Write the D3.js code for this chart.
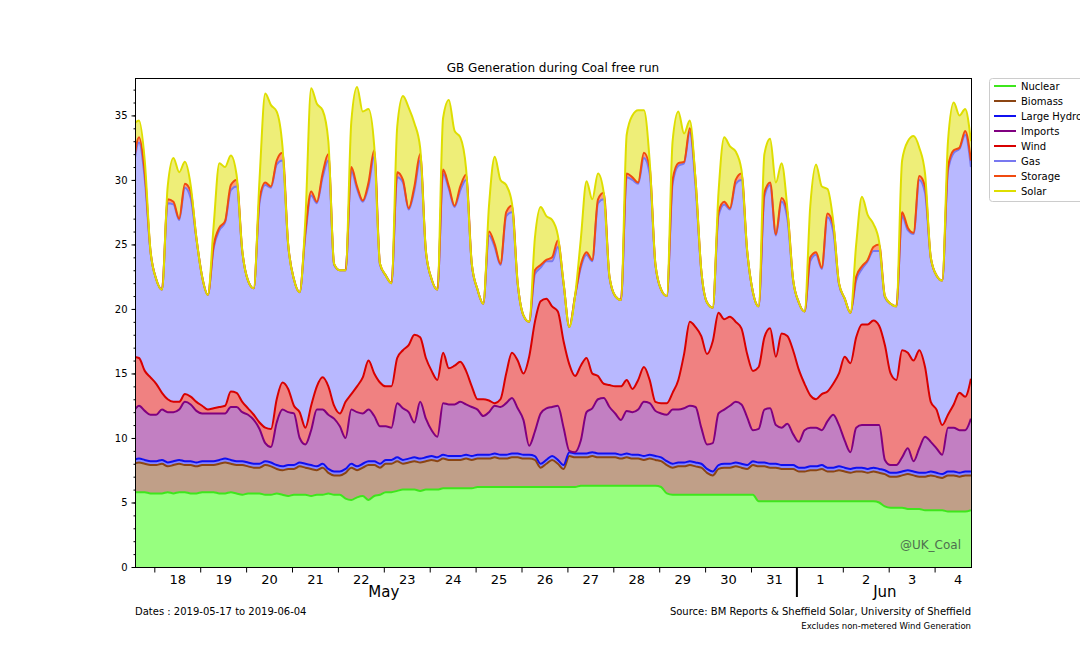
<!DOCTYPE html>
<html>
<head>
<meta charset="utf-8">
<script src="https://cdnjs.cloudflare.com/ajax/libs/d3/7.8.5/d3.min.js"></script>
<style>
  body { margin: 0; background: #fff; font-family: "DejaVu Sans", sans-serif; }
  svg text { font-family: "DejaVu Sans", sans-serif; }
</style>
</head>
<body>
<div id="chart"></div>
<script>
// GB generation by source, GW, every 3 hours from 17 May 13:00 (UTC) to 4 Jun 19:00
const nuclear = [
  5.8, 5.8, 5.8, 5.7,
  5.7, 5.7, 5.8, 5.7, 5.8, 5.8, 5.7, 5.7,
  5.8, 5.8, 5.8, 5.7, 5.7, 5.8, 5.7, 5.6,
  5.7, 5.7, 5.7, 5.6, 5.6, 5.7, 5.6, 5.5,
  5.6, 5.6, 5.6, 5.5, 5.6, 5.6, 5.7, 5.6,
  5.6, 5.3, 5.2, 5.4, 5.5, 5.2, 5.5, 5.6,
  5.8, 5.8, 5.9, 6.0, 6.0, 6.0, 5.9, 6.0,
  6.0, 6.0, 6.1, 6.1, 6.1, 6.1, 6.1, 6.1,
  6.2, 6.2, 6.2, 6.2, 6.2, 6.2, 6.2, 6.2,
  6.2, 6.2, 6.2, 6.2, 6.2, 6.2, 6.2, 6.2,
  6.2, 6.2, 6.3, 6.3, 6.3, 6.3, 6.3, 6.3,
  6.3, 6.3, 6.3, 6.3, 6.3, 6.3, 6.3, 6.3,
  6.2, 5.7, 5.6, 5.6, 5.6, 5.6, 5.6, 5.6,
  5.6, 5.6, 5.6, 5.6, 5.6, 5.6, 5.6, 5.6,
  5.6, 5.1, 5.1, 5.1, 5.1, 5.1, 5.1, 5.1,
  5.1, 5.1, 5.1, 5.1, 5.1, 5.1, 5.1, 5.1,
  5.1, 5.1, 5.1, 5.1, 5.1, 5.1, 5.0, 4.7,
  4.6, 4.6, 4.6, 4.5, 4.5, 4.5, 4.4, 4.4,
  4.4, 4.4, 4.3, 4.3, 4.3, 4.3, 4.4
];
const biomass = [
  2.2, 2.3, 2.2, 2.2,
  2.2, 2.3, 2.0, 2.2, 2.2, 2.1, 2.2, 2.1,
  2.1, 2.1, 2.1, 2.3, 2.4, 2.2, 2.2, 2.3,
  2.1, 2.0, 2.0, 2.3, 2.2, 1.9, 1.9, 2.1,
  2.0, 2.2, 2.1, 2.1, 1.9, 2.1, 1.6, 1.5,
  1.5, 2.0, 2.5, 2.1, 2.2, 2.7, 2.4, 2.1,
  2.2, 2.2, 2.3, 2.0, 2.1, 2.2, 2.2, 2.2,
  2.3, 2.2, 2.3, 2.2, 2.2, 2.2, 2.3, 2.2,
  2.2, 2.2, 2.2, 2.3, 2.2, 2.2, 2.3, 2.3,
  2.2, 2.2, 2.1, 1.5, 1.8, 2.1, 1.8, 1.4,
  2.4, 2.3, 2.2, 2.2, 2.3, 2.2, 2.2, 2.2,
  2.2, 2.1, 2.2, 2.1, 2.1, 2.0, 2.1, 2.0,
  2.0, 2.2, 2.1, 2.2, 2.2, 2.3, 2.2, 2.1,
  1.7, 1.5, 2.0, 2.1, 2.1, 2.2, 2.1, 2.0,
  2.3, 2.7, 2.7, 2.6, 2.6, 2.5, 2.5, 2.5,
  2.3, 2.3, 2.4, 2.4, 2.5, 2.3, 2.3, 2.4,
  2.3, 2.2, 2.3, 2.3, 2.2, 2.3, 2.3, 2.5,
  2.4, 2.4, 2.5, 2.7, 2.6, 2.5, 2.6, 2.7,
  2.6, 2.5, 2.8, 2.8, 2.7, 2.8, 2.7
];
const hydro = [
  0.3, 0.3, 0.3, 0.3,
  0.3, 0.3, 0.3, 0.3, 0.3, 0.3, 0.3, 0.3,
  0.3, 0.3, 0.3, 0.3, 0.3, 0.3, 0.3, 0.3,
  0.3, 0.3, 0.3, 0.3, 0.3, 0.3, 0.3, 0.3,
  0.3, 0.3, 0.3, 0.3, 0.3, 0.3, 0.3, 0.3,
  0.3, 0.3, 0.3, 0.3, 0.3, 0.3, 0.3, 0.3,
  0.3, 0.3, 0.3, 0.3, 0.3, 0.3, 0.3, 0.3,
  0.3, 0.3, 0.3, 0.3, 0.3, 0.3, 0.3, 0.3,
  0.3, 0.3, 0.3, 0.3, 0.3, 0.3, 0.3, 0.3,
  0.3, 0.3, 0.3, 0.3, 0.3, 0.3, 0.3, 0.3,
  0.3, 0.3, 0.3, 0.3, 0.3, 0.3, 0.3, 0.3,
  0.3, 0.3, 0.3, 0.3, 0.3, 0.3, 0.3, 0.3,
  0.3, 0.3, 0.3, 0.3, 0.3, 0.3, 0.3, 0.3,
  0.3, 0.3, 0.3, 0.3, 0.3, 0.3, 0.3, 0.3,
  0.3, 0.3, 0.3, 0.3, 0.3, 0.3, 0.3, 0.3,
  0.3, 0.3, 0.3, 0.3, 0.3, 0.3, 0.3, 0.3,
  0.3, 0.3, 0.3, 0.3, 0.3, 0.3, 0.3, 0.3,
  0.3, 0.3, 0.3, 0.3, 0.3, 0.3, 0.3, 0.3,
  0.3, 0.3, 0.3, 0.3, 0.3, 0.3, 0.3
];
const imports = [
  3.7, 4.1, 3.8, 3.6,
  3.6, 3.9, 3.9, 3.8, 3.9, 4.6, 4.4, 4.0,
  3.7, 3.7, 3.7, 3.6, 3.5, 4.1, 4.2, 3.8,
  3.7, 3.4, 2.7, 1.4, 1.2, 3.3, 4.4, 4.1,
  4.0, 1.9, 1.5, 2.7, 4.4, 4.2, 4.2, 4.1,
  3.5, 2.4, 4.2, 4.2, 3.9, 4.0, 3.5, 2.9,
  2.6, 2.5, 4.2, 4.0, 3.6, 2.7, 4.4, 3.0,
  2.0, 1.6, 4.0, 4.0, 4.0, 4.2, 3.9, 3.8,
  3.5, 3.0, 3.3, 3.7, 3.7, 4.0, 4.3, 3.5,
  2.7, 0.7, 1.9, 3.9, 4.0, 3.8, 4.2, 2.9,
  0.1, 0.1, 1.0, 3.2, 3.4, 4.2, 4.3, 3.6,
  3.1, 2.7, 3.3, 3.3, 3.5, 4.2, 4.0, 3.5,
  3.4, 3.6, 4.2, 4.1, 4.2, 4.3, 4.3, 2.8,
  1.9, 2.2, 4.0, 4.2, 4.5, 4.7, 4.6, 3.7,
  2.4, 2.6, 4.1, 4.3, 3.0, 2.9, 3.2, 2.4,
  2.0, 2.9, 3.0, 3.0, 2.7, 3.6, 4.1, 3.2,
  2.1, 1.3, 3.1, 3.3, 3.4, 3.3, 3.4, 0.8,
  0.6, 0.6, 1.1, 1.7, 0.8, 1.9, 2.8, 2.3,
  1.9, 1.5, 3.4, 3.4, 3.3, 3.2, 4.1
];
const wind = [
  4.3, 3.7, 3.1, 2.9,
  2.4, 1.3, 1.0, 0.8, 0.6, 0.6, 0.6, 0.7,
  0.6, 0.3, 0.4, 0.5, 0.6, 1.2, 1.1, 0.8,
  0.5, 0.4, 0.5, 1.2, 1.4, 1.8, 2.1, 1.8,
  0.6, 2.0, 1.3, 1.9, 1.8, 2.5, 2.2, 1.0,
  1.0, 2.8, 1.2, 2.0, 2.8, 3.8, 3.3, 3.4,
  3.1, 3.2, 3.5, 4.5, 5.2, 6.8, 5.0, 4.7,
  4.6, 4.4, 3.9, 2.8, 3.0, 3.1, 2.6, 1.6,
  0.8, 1.3, 0.9, 0.2, 0.6, 2.3, 3.5, 3.7,
  3.6, 6.9, 8.5, 8.7, 8.5, 7.8, 7.3, 6.7,
  6.7, 5.9, 5.8, 4.2, 2.7, 1.8, 1.1, 1.7,
  2.1, 2.6, 2.4, 1.8, 2.3, 2.7, 1.8, 0.7,
  0.8, 0.9, 1.3, 2.3, 4.2, 6.5, 6.2, 7.1,
  7.0, 7.9, 7.8, 7.0, 6.9, 6.2, 5.9, 4.9,
  4.6, 4.8, 5.6, 6.2, 5.3, 7.3, 6.8, 6.5,
  5.6, 3.6, 2.5, 2.2, 2.8, 2.3, 2.4, 4.0,
  6.5, 6.9, 7.0, 7.8, 7.8, 8.1, 7.7, 8.9,
  7.1, 6.6, 8.3, 7.4, 7.8, 7.6, 5.4, 3.1,
  3.0, 2.3, 1.0, 1.8, 2.9, 2.6, 3.1
];
const gas = [
  14.5, 16.7, 14.9, 9.7,
  8.1, 8.0, 15.2, 15.3, 14.1, 16.0, 15.4, 12.6,
  10.0, 8.9, 12.4, 13.7, 14.2, 15.6, 16.0, 11.6,
  9.9, 9.8, 17.0, 18.8, 18.7, 18.2, 17.2, 11.1,
  9.8, 9.3, 14.9, 16.3, 14.2, 15.5, 17.5, 10.9,
  11.1, 10.2, 17.3, 15.3, 13.6, 13.5, 16.8, 9.1,
  8.6, 8.0, 14.0, 13.0, 10.5, 11.2, 13.7, 8.2,
  7.1, 7.0, 13.9, 13.9, 12.3, 13.3, 14.8, 9.4,
  8.5, 7.4, 12.8, 12.1, 10.4, 12.2, 10.9, 5.9,
  4.5, 2.7, 3.7, 2.6, 2.9, 3.5, 5.0, 4.4,
  2.9, 6.2, 7.6, 8.0, 8.7, 13.4, 14.3, 8.3,
  7.0, 6.7, 15.7, 16.2, 15.2, 16.2, 16.0, 10.6,
  8.8, 8.3, 16.2, 16.6, 14.8, 14.7, 10.9, 5.0,
  4.0, 2.6, 7.5, 8.9, 8.3, 10.7, 11.5, 7.9,
  6.1, 4.7, 10.9, 11.1, 9.4, 10.2, 9.1, 5.4,
  5.2, 5.6, 10.4, 11.2, 9.7, 13.5, 11.8, 6.9,
  4.5, 3.9, 4.4, 4.3, 4.9, 5.4, 5.8, 3.7,
  5.4, 5.7, 10.4, 9.5, 9.8, 13.2, 13.5, 11.1,
  10.4, 11.2, 18.9, 19.5, 18.9, 20.3, 16.4
];
const storage = [
  0.2, 0.4, 0.5, 0.1,
  0.0, 0.0, 0.3, 0.2, 0.1, 0.3, 0.5, 0.1,
  0.0, 0.0, 0.2, 0.2, 0.1, 0.4, 0.5, 0.1,
  0.0, 0.0, 0.3, 0.2, 0.1, 0.3, 0.6, 0.1,
  0.0, 0.0, 0.3, 0.3, 0.1, 0.3, 0.5, 0.1,
  0.0, 0.0, 0.3, 0.2, 0.1, 0.3, 0.5, 0.1,
  0.0, 0.0, 0.4, 0.2, 0.1, 0.3, 0.5, 0.1,
  0.0, 0.0, 0.3, 0.2, 0.1, 0.3, 0.4, 0.1,
  0.0, 0.0, 0.3, 0.2, 0.1, 0.3, 0.5, 0.1,
  0.0, 0.0, 0.3, 0.2, 0.1, 0.3, 0.5, 0.1,
  0.0, 0.0, 0.2, 0.2, 0.1, 0.3, 0.5, 0.1,
  0.0, 0.0, 0.3, 0.2, 0.1, 0.4, 0.5, 0.1,
  0.0, 0.0, 0.3, 0.2, 0.1, 0.3, 0.5, 0.1,
  0.0, 0.0, 0.3, 0.2, 0.1, 0.3, 0.5, 0.1,
  0.0, 0.0, 0.3, 0.2, 0.1, 0.3, 0.5, 0.1,
  0.0, 0.0, 0.3, 0.2, 0.1, 0.3, 0.5, 0.1,
  0.0, 0.0, 0.3, 0.2, 0.1, 0.3, 0.5, 0.1,
  0.0, 0.0, 0.3, 0.2, 0.1, 0.3, 0.5, 0.1,
  0.0, 0.0, 0.3, 0.2, 0.1, 0.3, 0.5
];
const solar = [
  3.3, 1.3, 0.9, 0.0,
  0, 0, 1.0, 3.4, 3.6, 1.7, 0.5, 0,
  0, 0, 1.5, 5.0, 4.2, 2.3, 0.4, 0,
  0, 0, 1.5, 6.9, 6.3, 3.8, 0.5, 0,
  0, 0, 1.0, 8.0, 7.6, 4.9, 1.0, 0,
  0, 0, 3.5, 7.7, 6.9, 5.7, 0.3, 0,
  0, 0, 3.5, 6.5, 7.8, 4.9, 0.5, 0,
  0, 0, 4.0, 6.7, 5.8, 3.8, 0.5, 0,
  0, 0, 2.0, 6.8, 6.5, 2.1, 0.2, 0,
  0, 0, 2.5, 4.5, 3.4, 2.9, 0.4, 0,
  0, 0, 2.0, 5.5, 4.7, 2.0, 0, 0,
  0, 0, 3.0, 4.8, 5.6, 3.3, 0.5, 0,
  0, 0, 3.0, 4.0, 2.2, 0.6, 0, 0,
  0, 0, 1.5, 5.0, 4.8, 2.2, 0.3, 0,
  0, 0, 3.0, 3.4, 4.0, 2.7, 0.3, 0,
  0, 0, 4.0, 6.8, 6.3, 1.9, 0.3, 0,
  0, 0, 2.5, 5.4, 3.5, 1.8, 0.2, 0,
  0, 0, 4.0, 6.7, 7.5, 2.2, 1.0, 0,
  0, 0, 2.0, 3.7, 2.5, 1.7, 1.5
];

const keys = ['nuclear', 'biomass', 'hydro', 'imports', 'wind', 'gas', 'storage', 'solar'];
const legendNames = ['Nuclear', 'Biomass', 'Large Hydro', 'Imports', 'Wind', 'Gas', 'Storage', 'Solar'];
const lineColors = ['#3ee61c', '#8b4513', '#1010f0', '#800080', '#d80000', '#7878f0', '#f04a10', '#dede00'];
const fillColors = ['#97ff7f', '#c09f88', '#8888ff', '#c27fc2', '#f08181', '#b8b8ff', '#f8a080', '#eeee78'];
const yTicks = [0, 5, 10, 15, 20, 25, 30, 35];
const monthLabels = [
  { label: 'May', at: Date.UTC(2019, 4, 23, 0) },
  { label: 'Jun', at: Date.UTC(2019, 5, 2, 22) }
];

const series = { nuclear, biomass, hydro, imports, wind, gas, storage, solar };
const t0 = Date.UTC(2019, 4, 17, 13), stepMs = 3 * 3600 * 1000;
const rows = nuclear.map((d, i) => {
  const r = { t: new Date(t0 + i * stepMs) };
  keys.forEach(k => { r[k] = series[k][i]; });
  return r;
});

const width = 1080, height = 648;
const plotLeft = 135, plotRight = 971, plotTop = 78, plotBottom = 567;

const svg = d3.select('#chart').append('svg')
  .attr('width', width)
  .attr('height', height);

const x = d3.scaleUtc()
  .domain([new Date(Date.UTC(2019, 4, 17, 13, 54)), new Date(Date.UTC(2019, 5, 4, 19, 2))])
  .range([plotLeft, plotRight]);
const y = d3.scaleLinear().domain([0, 37.9]).range([plotBottom, plotTop]);

svg.append('clipPath').attr('id', 'plotclip')
  .append('rect')
  .attr('x', plotLeft).attr('y', plotTop)
  .attr('width', plotRight - plotLeft).attr('height', plotBottom - plotTop);

const stacked = d3.stack().keys(keys)(rows);

const area = d3.area()
  .x(d => x(d.data.t))
  .y0(d => y(d[0]))
  .y1(d => y(d[1]))
  .curve(d3.curveMonotoneX);
const topLine = d3.line()
  .x(d => x(d.data.t))
  .y(d => y(d[1]))
  .curve(d3.curveMonotoneX);

const plot = svg.append('g').attr('clip-path', 'url(#plotclip)');
plot.selectAll('path.fill')
  .data(stacked)
  .enter()
  .append('path')
  .attr('class', 'fill')
  .attr('d', area)
  .attr('fill', (d, i) => fillColors[i]);
plot.selectAll('path.top')
  .data(stacked)
  .enter()
  .append('path')
  .attr('class', 'top')
  .attr('d', topLine)
  .attr('fill', 'none')
  .attr('stroke', (d, i) => lineColors[i])
  .attr('stroke-width', 2)
  .attr('stroke-linejoin', 'round');

// watermark
svg.append('text')
  .attr('x', 961).attr('y', 549)
  .attr('text-anchor', 'end')
  .attr('font-size', 12)
  .attr('fill', '#4f6f4f')
  .text('@UK_Coal');

// frame
svg.append('rect')
  .attr('x', plotLeft + 0.5).attr('y', plotTop + 0.5)
  .attr('width', plotRight - plotLeft).attr('height', plotBottom - plotTop)
  .attr('fill', 'none')
  .attr('stroke', '#000')
  .attr('stroke-width', 1);

// y axis
const yAxis = svg.append('g')
  .attr('transform', 'translate(' + (plotLeft + 0.5) + ',0)')
  .call(d3.axisLeft(y).tickValues(yTicks).tickSize(4).tickPadding(4));
yAxis.select('.domain').remove();
yAxis.selectAll('text').attr('font-size', 10).attr('fill', '#000');
const yMinor = svg.append('g')
  .attr('transform', 'translate(' + (plotLeft + 0.5) + ',0)')
  .call(d3.axisLeft(y).tickValues(d3.range(0, 38, 1)).tickSize(2).tickFormat(''));
yMinor.select('.domain').remove();

// x axis: tick marks at midnight, day numbers at noon
const days = d3.utcDay.range(new Date(Date.UTC(2019, 4, 18)), new Date(Date.UTC(2019, 5, 5)));
const midnights = days.filter(d => !(d.getUTCMonth() === 5 && d.getUTCDate() === 1));
const noons = days.map(d => d3.utcHour.offset(d, 12));
const xTicks = svg.append('g')
  .attr('transform', 'translate(0,' + (plotBottom + 0.5) + ')')
  .call(d3.axisBottom(x).tickValues(midnights).tickSize(5).tickFormat(''));
xTicks.select('.domain').remove();
const xLabels = svg.append('g')
  .attr('transform', 'translate(0,' + plotBottom + ')')
  .call(d3.axisBottom(x).tickValues(noons).tickSize(0).tickPadding(8).tickFormat(d3.utcFormat('%-d')));
xLabels.select('.domain').remove();
xLabels.selectAll('text').attr('font-size', 13).attr('fill', '#000');

// month boundary and month names
const jun1 = x(new Date(Date.UTC(2019, 5, 1)));
svg.append('line')
  .attr('x1', jun1).attr('x2', jun1)
  .attr('y1', plotBottom).attr('y2', plotBottom + 30)
  .attr('stroke', '#000')
  .attr('stroke-width', 2);
svg.selectAll('text.month')
  .data(monthLabels)
  .enter()
  .append('text')
  .attr('class', 'month')
  .attr('x', d => x(new Date(d.at)))
  .attr('y', 597)
  .attr('text-anchor', 'middle')
  .attr('font-size', 15)
  .text(d => d.label);

// title and notes
svg.append('text')
  .attr('x', (plotLeft + plotRight) / 2).attr('y', 72)
  .attr('text-anchor', 'middle')
  .attr('font-size', 12)
  .text('GB Generation during Coal free run');
svg.append('text')
  .attr('x', plotLeft).attr('y', 615)
  .attr('font-size', 10)
  .text('Dates : 2019-05-17 to 2019-06-04');
svg.append('text')
  .attr('x', plotRight).attr('y', 615)
  .attr('text-anchor', 'end')
  .attr('font-size', 10)
  .text('Source: BM Reports & Sheffield Solar, University of Sheffield');
svg.append('text')
  .attr('x', plotRight).attr('y', 629)
  .attr('text-anchor', 'end')
  .attr('font-size', 8.5)
  .text('Excludes non-metered Wind Generation');

// legend
const legend = svg.append('g').attr('transform', 'translate(989,78)');
legend.append('rect')
  .attr('x', 0.5).attr('y', 0.5)
  .attr('width', 100).attr('height', 123)
  .attr('rx', 3)
  .attr('fill', '#fff')
  .attr('stroke', '#cccccc');
const items = legend.selectAll('g.item')
  .data(legendNames)
  .enter()
  .append('g')
  .attr('class', 'item')
  .attr('transform', (d, i) => 'translate(0,' + (8 + i * 15) + ')');
items.append('line')
  .attr('x1', 5).attr('x2', 27)
  .attr('stroke', (d, i) => lineColors[i])
  .attr('stroke-width', 2);
items.append('text')
  .attr('x', 32)
  .attr('dy', '0.35em')
  .attr('font-size', 10)
  .text(d => d);
</script>
</body>
</html>
